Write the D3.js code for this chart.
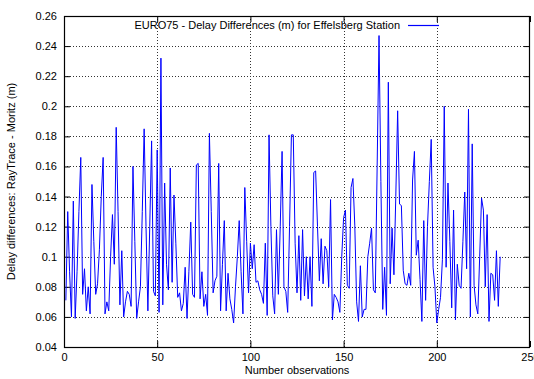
<!DOCTYPE html>
<html>
<head>
<meta charset="utf-8">
<script src="https://cdn.jsdelivr.net/npm/d3@7"></script>
<style>
  body { margin: 0; background: #fff; }
  text { font-family: "Liberation Sans", Arial, sans-serif; }
</style>
</head>
<body>
<svg id="chart" width="534" height="379"></svg>
<script>
// tick values and labels as printed on the chart
const xTickValues = [0, 50, 100, 150, 200, 250];
const xTickLabels = ["0", "50", "100", "150", "200", "250"];
const yTickValues = [0.04, 0.06, 0.08, 0.10, 0.12, 0.14, 0.16, 0.18, 0.20, 0.22, 0.24, 0.26];
const yTickLabels = ["0.04", "0.06", "0.08", "0.1", "0.12", "0.14", "0.16", "0.18", "0.2", "0.22", "0.24", "0.26"];

const seriesName = "EURO75 - Delay Differences (m) for Effelsberg Station";

const delays = [
  0.071, 0.130, 0.090, 0.060, 0.137, 0.059, 0.090, 0.130, 0.166, 0.075,
  0.092, 0.064, 0.080, 0.062, 0.148, 0.110, 0.075, 0.082, 0.105, 0.140,
  0.166, 0.062, 0.070, 0.064, 0.100, 0.128, 0.095, 0.186, 0.130, 0.068,
  0.104, 0.060, 0.070, 0.077, 0.075, 0.067, 0.160, 0.110, 0.059, 0.070,
  0.080, 0.130, 0.185, 0.120, 0.064, 0.120, 0.177, 0.077, 0.074, 0.171,
  0.063, 0.232, 0.068, 0.149, 0.095, 0.078, 0.159, 0.083, 0.141, 0.109,
  0.073, 0.076, 0.064, 0.069, 0.093, 0.059, 0.090, 0.123, 0.075, 0.073,
  0.161, 0.162, 0.072, 0.090, 0.067, 0.075, 0.061, 0.182, 0.130, 0.076,
  0.084, 0.087, 0.162, 0.064, 0.095, 0.124, 0.064, 0.089, 0.072, 0.065,
  0.056, 0.080, 0.100, 0.124, 0.090, 0.062, 0.146, 0.110, 0.076, 0.109,
  0.092, 0.108, 0.083, 0.084, 0.078, 0.075, 0.069, 0.109, 0.061, 0.181,
  0.120, 0.074, 0.062, 0.118, 0.075, 0.120, 0.170, 0.080, 0.077, 0.063,
  0.120, 0.181, 0.181, 0.109, 0.076, 0.114, 0.071, 0.118, 0.074, 0.100,
  0.072, 0.100, 0.067, 0.156, 0.157, 0.120, 0.084, 0.112, 0.082, 0.107,
  0.104, 0.080, 0.138, 0.058, 0.075, 0.073, 0.070, 0.063, 0.100, 0.126,
  0.131, 0.081, 0.079, 0.146, 0.152, 0.121, 0.070, 0.057, 0.094, 0.060,
  0.065, 0.065, 0.100, 0.109, 0.119, 0.078, 0.076, 0.160, 0.247, 0.150,
  0.065, 0.093, 0.061, 0.216, 0.082, 0.119, 0.088, 0.140, 0.197, 0.135,
  0.134, 0.091, 0.082, 0.081, 0.089, 0.081, 0.151, 0.170, 0.101, 0.111,
  0.085, 0.057, 0.124, 0.071, 0.120, 0.150, 0.178, 0.093, 0.080, 0.056,
  0.065, 0.073, 0.098, 0.200, 0.093, 0.149, 0.110, 0.066, 0.131, 0.058,
  0.095, 0.081, 0.079, 0.110, 0.143, 0.092, 0.198, 0.060, 0.175, 0.081,
  0.068, 0.062, 0.100, 0.139, 0.131, 0.080, 0.128, 0.057, 0.089, 0.088,
  0.071, 0.104, 0.067, 0.100
];

const width = 534, height = 379;
const margin = { top: 16, right: 4, bottom: 32, left: 64 };
const innerWidth = width - margin.left - margin.right;
const innerHeight = height - margin.top - margin.bottom;

const svg = d3.select("#chart");
const g = svg.append("g")
  .attr("transform", `translate(${margin.left},${margin.top})`);

const xScale = d3.scaleLinear().domain([0, 250]).range([0, innerWidth]);
const yScale = d3.scaleLinear().domain([0.04, 0.26]).range([innerHeight, 0]);

// dotted grid
const grid = g.append("g").attr("class", "grid");
grid.selectAll("line.gx")
  .data(xTickValues.slice(1, -1)).enter()
  .append("line")
    .attr("class", "gx")
    .attr("x1", d => Math.round(xScale(d)) + 0.5).attr("x2", d => Math.round(xScale(d)) + 0.5)
    .attr("y1", 0).attr("y2", innerHeight);
grid.selectAll("line.gy")
  .data(yTickValues.slice(1, -1)).enter()
  .append("line")
    .attr("class", "gy")
    .attr("x1", 0).attr("x2", innerWidth)
    .attr("y1", d => Math.round(yScale(d)) + 0.5).attr("y2", d => Math.round(yScale(d)) + 0.5);
grid.selectAll("line")
  .attr("stroke", "#333")
  .attr("stroke-width", 1)
  .attr("stroke-dasharray", "1,2");

// axes with inward ticks, mirrored on top / right
const xAxis = d3.axisBottom(xScale)
  .tickValues(xTickValues)
  .tickFormat((d, i) => xTickLabels[i])
  .tickSizeInner(-6).tickSizeOuter(0);
const yAxis = d3.axisLeft(yScale)
  .tickValues(yTickValues)
  .tickFormat((d, i) => yTickLabels[i])
  .tickSizeInner(-6).tickSizeOuter(0);

const xAxisG = g.append("g").attr("transform", `translate(0,${innerHeight})`).call(xAxis);
const yAxisG = g.append("g").call(yAxis);
g.append("g").call(d3.axisTop(xScale).tickValues(xTickValues).tickFormat("").tickSizeInner(-6).tickSizeOuter(0));
g.append("g").attr("transform", `translate(${innerWidth},0)`)
  .call(d3.axisRight(yScale).tickValues(yTickValues).tickFormat("").tickSizeInner(-6).tickSizeOuter(0));

g.selectAll(".domain").remove();
g.selectAll(".tick line").attr("stroke", "#000");
g.selectAll(".tick text")
  .attr("font-size", 11)
  .attr("fill", "#000");
xAxisG.selectAll(".tick text").attr("y", 10).attr("dy", "0.35em");
yAxisG.selectAll(".tick text").attr("x", -7);

// the series
const line = d3.line()
  .x((d, i) => xScale(i + 1))
  .y(d => yScale(d));

g.append("path")
  .datum(delays)
  .attr("fill", "none")
  .attr("stroke", "#0000ff")
  .attr("stroke-width", 1)
  .attr("d", line);

// frame
g.append("rect")
  .attr("x", 0.5).attr("y", 0.5)
  .attr("width", innerWidth - 1).attr("height", innerHeight)
  .attr("fill", "none")
  .attr("stroke", "#000")
  .attr("stroke-width", 1.2);

// key, top centre
const key = g.append("g").attr("transform", "translate(0,9)");
key.append("text")
  .attr("x", 336)
  .attr("y", 0)
  .attr("dy", "0.35em")
  .attr("text-anchor", "end")
  .attr("font-size", 11)
  .text(seriesName);
key.append("line")
  .attr("x1", 344).attr("x2", 375)
  .attr("y1", 0.5).attr("y2", 0.5)
  .attr("stroke", "#0000ff")
  .attr("stroke-width", 1.2);

// axis titles
svg.append("text")
  .attr("x", margin.left + innerWidth / 2)
  .attr("y", 374)
  .attr("text-anchor", "middle")
  .attr("font-size", 11)
  .text("Number observations");

svg.append("text")
  .attr("transform", `translate(15,${margin.top + innerHeight / 2}) rotate(-90)`)
  .attr("text-anchor", "middle")
  .attr("font-size", 11)
  .text("Delay differences: RayTrace - Moritz (m)");
</script>
</body>
</html>
